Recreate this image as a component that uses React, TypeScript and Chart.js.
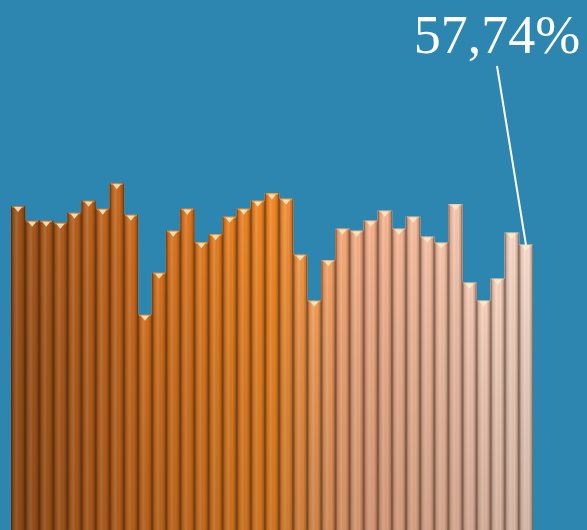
import React, { useEffect, useRef } from "react";
import { Chart, registerables } from "chart.js";

Chart.register(...registerables);

const categories: string[] = Array.from({ length: 37 }, (_, i) => String(i + 1));
const shareValues: number[] = [
  65.57, 62.6, 62.6, 62.19, 64.22, 66.65, 65.03, 70.17, 63.81, 43.57,
  52.07, 60.57, 65.03, 58.23, 59.85, 63.41, 65.03, 66.65, 68.14, 67.05,
  55.72, 46.41, 54.58, 60.98, 60.57, 62.6, 64.62, 60.98, 63.41, 59.36,
  58.15, 65.92, 50.05, 46.41, 50.86, 60.17, 57.74,
];
const calloutLabel = "57,74%";

const BG = "#2d86b0";
const colorStops: [number, [number, number, number]][] = [
  [0, [160, 84, 26]],
  [8, [206, 108, 30]],
  [18, [245, 138, 37]],
  [20, [243, 150, 70]],
  [24, [248, 176, 136]],
  [31, [249, 200, 176]],
  [36, [250, 220, 204]],
];

function barColor(i: number): string {
  for (let k = 0; k < colorStops.length - 1; k++) {
    const [a, ca] = colorStops[k];
    const [b, cb] = colorStops[k + 1];
    if (i >= a && i <= b) {
      const t = (i - a) / (b - a);
      const c = ca.map((v, j) => Math.round(v + (cb[j] - v) * t));
      return `rgb(${c[0]},${c[1]},${c[2]})`;
    }
  }
  const c = colorStops[colorStops.length - 1][1];
  return `rgb(${c[0]},${c[1]},${c[2]})`;
}

const shadePlugin = {
  id: "shade",
  afterDatasetsDraw(chart: any) {
    const ctx = chart.ctx as CanvasRenderingContext2D;
    const meta = chart.getDatasetMeta(0);
    ctx.save();
    meta.data.forEach((bar: any) => {
      const { x, y, base, width } = bar.getProps(["x", "y", "base", "width"], true);
      const l = x - width / 2;
      const r = x + width / 2;
      const hg = ctx.createLinearGradient(l, 0, r, 0);
      hg.addColorStop(0, "rgba(40,15,0,0.6)");
      hg.addColorStop(0.15, "rgba(40,15,0,0.15)");
      hg.addColorStop(0.42, "rgba(255,255,255,0.12)");
      hg.addColorStop(0.7, "rgba(0,0,0,0)");
      hg.addColorStop(0.88, "rgba(40,15,0,0.22)");
      hg.addColorStop(1, "rgba(40,15,0,0.6)");
      ctx.fillStyle = hg;
      ctx.fillRect(l, y, width, base - y);
      const vg = ctx.createLinearGradient(0, y, 0, base);
      vg.addColorStop(0, "rgba(0,0,0,0)");
      vg.addColorStop(1, "rgba(60,30,10,0.18)");
      ctx.fillStyle = vg;
      ctx.fillRect(l, y, width, base - y);
      ctx.fillStyle = "rgba(255,240,200,0.85)";
      ctx.beginPath();
      ctx.moveTo(l + 3, y + 1);
      ctx.lineTo(r - 3, y + 1);
      ctx.lineTo(x, y + 6);
      ctx.closePath();
      ctx.fill();
      ctx.fillStyle = "rgba(255,230,190,0.35)";
      ctx.fillRect(l + 1, y, width - 2, 1.5);
    });
    const last = meta.data[meta.data.length - 1];
    const p = last.getProps(["x", "y"], true);
    const tx = 497;
    ctx.strokeStyle = "#ffffff";
    ctx.lineWidth = 2;
    ctx.beginPath();
    ctx.moveTo(tx, 66);
    ctx.lineTo(p.x, p.y);
    ctx.stroke();
    ctx.fillStyle = "#ffffff";
    ctx.font = '54px "Liberation Serif", serif';
    ctx.textAlign = "center";
    ctx.textBaseline = "alphabetic";
    ctx.fillText(calloutLabel, tx, 53);
    ctx.restore();
  },
};

export default function App() {
  const ref = useRef<HTMLCanvasElement | null>(null);
  useEffect(() => {
    if (!ref.current) return;
    const chart = new Chart(ref.current, {
      type: "bar",
      data: {
        labels: categories,
        datasets: [
          {
            data: shareValues,
            backgroundColor: shareValues.map((_, i) => barColor(i)),
            borderWidth: 0,
            barPercentage: 1,
            categoryPercentage: 1,
          },
        ],
      },
      options: {
        animation: false,
        responsive: true,
        maintainAspectRatio: false,
        layout: { padding: { left: 11, right: 54, top: 36, bottom: 0 } },
        plugins: { legend: { display: false }, tooltip: { enabled: false } },
        scales: {
          x: { display: false },
          y: { display: false, min: 0, max: 100 },
        },
      },
      plugins: [shadePlugin],
    });
    return () => chart.destroy();
  }, []);
  return (
    <div
      style={{
        position: "fixed",
        left: 0,
        top: 0,
        width: 587,
        height: 530,
        background: BG,
      }}
    >
      <canvas ref={ref} />
    </div>
  );
}
